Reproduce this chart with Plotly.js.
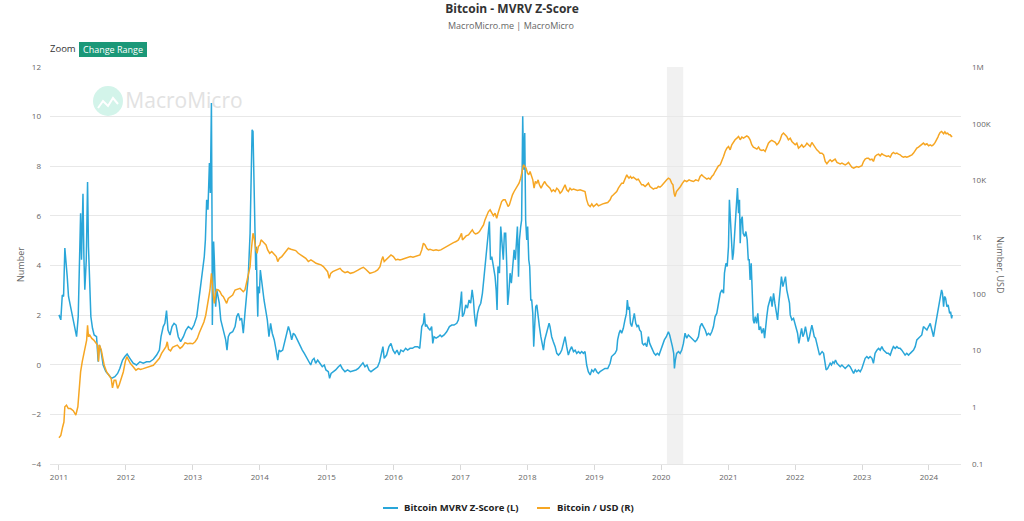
<!DOCTYPE html>
<html>
<head>
<meta charset="utf-8">
<script src="https://cdn.plot.ly/plotly-3.0.1.min.js"></script>
<style>
html,body{margin:0;padding:0;background:#fff;}
#chart{width:1024px;height:521px;}
</style>
</head>
<body>
<div id="chart"></div>
<script>
// ---- DATA (decimal year, value) ----
const mvrvPoints = [
[2011.000,2.01],[2011.030,1.81],[2011.050,2.81],[2011.070,2.75],[2011.090,4.70],[2011.105,4.23],[2011.125,3.55],[2011.145,2.75],[2011.175,2.34],[2011.205,1.94],
[2011.240,1.47],[2011.264,1.13],[2011.289,1.94],[2011.309,3.69],[2011.324,6.11],[2011.339,4.23],[2011.359,6.89],[2011.374,4.36],[2011.389,3.02],[2011.409,4.23],
[2011.429,7.36],[2011.443,4.76],[2011.458,2.88],[2011.478,1.94],[2011.503,1.47],[2011.528,1.20],[2011.563,1.13],[2011.588,0.12],[2011.603,0.80],[2011.628,0.59],
[2011.663,-0.01],[2011.703,-0.28],[2011.747,-0.41],[2011.787,-0.55],[2011.837,-0.48],[2011.877,-0.35],[2011.912,-0.15],[2011.952,0.19],[2011.987,0.33],
[2012.021,0.43],[2012.061,0.26],[2012.111,0.06],[2012.161,-0.01],[2012.211,0.12],[2012.261,0.06],[2012.310,0.12],[2012.360,0.12],[2012.410,0.22],[2012.460,0.39],
[2012.500,0.59],[2012.525,1.13],[2012.560,1.54],[2012.584,1.67],[2012.609,2.18],[2012.629,1.40],[2012.659,1.20],[2012.689,1.54],[2012.719,1.67],[2012.749,1.60],
[2012.784,1.13],[2012.819,0.93],[2012.858,1.13],[2012.898,1.40],[2012.933,1.54],[2012.983,1.43],
[2013.018,1.60],[2013.058,1.94],[2013.083,2.48],[2013.118,3.42],[2013.147,3.82],[2013.172,4.36],[2013.187,5.03],[2013.207,6.65],[2013.227,6.25],[2013.247,8.13],
[2013.262,6.92],[2013.277,10.55],[2013.287,6.25],[2013.292,1.60],[2013.302,3.69],[2013.312,4.97],[2013.322,4.23],[2013.332,2.88],[2013.342,2.34],[2013.357,3.02],
[2013.377,2.81],[2013.397,2.48],[2013.417,1.81],[2013.441,1.54],[2013.466,1.27],[2013.491,1.00],[2013.511,0.59],[2013.531,1.13],[2013.556,1.27],[2013.596,1.33],
[2013.631,1.54],[2013.656,1.94],[2013.681,2.07],[2013.706,1.81],[2013.731,1.87],[2013.756,1.27],[2013.780,2.07],[2013.805,2.88],[2013.830,3.55],[2013.855,5.30],
[2013.870,6.92],[2013.885,9.47],[2013.900,9.40],[2013.910,7.18],[2013.920,5.57],[2013.930,5.30],[2013.940,3.82],[2013.950,4.76],[2013.960,3.02],[2013.970,1.94],
[2013.980,3.15],[2013.995,2.88],[2014.010,3.82],[2014.025,3.42],[2014.045,2.88],[2014.065,2.61],[2014.089,2.21],[2014.114,1.81],[2014.139,1.13],[2014.164,1.67],
[2014.189,1.27],[2014.219,1.00],[2014.244,0.59],[2014.269,0.19],[2014.289,0.59],[2014.314,0.53],[2014.344,0.59],[2014.378,0.93],[2014.403,1.27],[2014.428,1.54],
[2014.453,1.33],[2014.478,1.00],[2014.503,1.27],[2014.528,1.20],[2014.563,1.00],[2014.603,0.73],[2014.637,0.59],[2014.667,0.46],[2014.702,0.26],[2014.727,0.12],
[2014.762,-0.01],[2014.787,0.19],[2014.812,0.26],[2014.837,0.06],[2014.866,0.19],[2014.901,0.06],[2014.936,-0.08],[2014.966,-0.01],[2014.991,-0.21],
[2015.026,-0.28],[2015.046,-0.55],[2015.066,-0.35],[2015.101,-0.28],[2015.136,-0.21],[2015.176,-0.08],[2015.206,-0.01],[2015.235,-0.15],[2015.275,-0.28],[2015.315,-0.21],
[2015.355,-0.28],[2015.400,-0.24],[2015.440,-0.21],[2015.474,-0.15],[2015.514,-0.01],[2015.544,0.08],[2015.574,-0.08],[2015.604,-0.01],[2015.634,-0.21],[2015.664,-0.28],
[2015.699,-0.21],[2015.734,-0.15],[2015.764,-0.08],[2015.793,0.12],[2015.823,0.46],[2015.843,0.73],[2015.863,0.26],[2015.898,0.39],[2015.933,0.73],[2015.963,0.86],
[2015.993,0.59],[2016.023,0.46],[2016.053,0.59],[2016.082,0.39],[2016.112,0.59],[2016.147,0.53],[2016.182,0.66],[2016.212,0.59],[2016.247,0.66],[2016.282,0.66],
[2016.322,0.73],[2016.361,0.73],[2016.391,0.66],
[2016.421,1.54],[2016.446,1.67],[2016.461,2.07],[2016.476,1.54],[2016.496,1.60],[2016.521,1.47],[2016.545,1.40],[2016.570,1.54],[2016.585,0.86],[2016.605,1.13],
[2016.635,1.07],[2016.670,1.13],[2016.695,1.20],[2016.720,1.13],[2016.755,1.20],[2016.795,1.33],[2016.834,1.54],[2016.869,1.60],[2016.904,1.60],[2016.944,1.67],
[2016.969,1.81],[2016.994,2.34],[2017.014,2.95],[2017.029,1.94],[2017.054,2.07],[2017.079,2.41],[2017.104,2.28],[2017.128,2.61],[2017.153,2.48],[2017.173,3.02],
[2017.193,2.61],[2017.208,2.07],[2017.228,1.54],[2017.253,2.07],[2017.278,2.34],[2017.303,2.48],[2017.328,2.88],[2017.352,3.55],[2017.372,4.09],[2017.392,4.76],
[2017.412,5.44],[2017.432,5.77],[2017.447,4.23],[2017.467,4.36],[2017.492,3.96],[2017.517,3.55],[2017.532,3.02],[2017.547,2.21],[2017.561,3.96],[2017.581,3.69],
[2017.601,5.57],[2017.621,4.63],[2017.641,4.23],[2017.656,5.30],[2017.676,5.30],[2017.691,3.96],[2017.706,2.41],[2017.721,2.88],[2017.741,3.69],[2017.761,3.29],
[2017.781,3.96],[2017.801,4.63],[2017.821,4.23],[2017.836,4.90],[2017.851,5.57],[2017.866,3.55],[2017.880,5.03],[2017.900,5.57],[2017.915,5.83],[2017.930,10.01],
[2017.945,7.86],[2017.960,9.34],[2017.975,5.83],[2017.990,5.03],[2018.005,5.57],[2018.020,4.23],[2018.035,3.96],[2018.050,2.61],[2018.065,2.61],[2018.080,2.07],
[2018.095,0.73],[2018.110,1.67],[2018.125,2.34],[2018.140,2.41],[2018.160,1.81],[2018.180,1.54],[2018.200,1.13],[2018.220,0.86],[2018.240,0.59],[2018.260,1.00],
[2018.280,1.27],[2018.305,1.47],[2018.325,1.67],[2018.339,1.54],[2018.364,1.13],[2018.389,0.93],[2018.414,0.73],[2018.439,0.46],[2018.464,0.39],[2018.489,0.46],
[2018.514,0.59],[2018.539,0.86],[2018.564,1.13],[2018.588,0.73],[2018.613,0.39],[2018.638,0.59],[2018.663,0.73],[2018.688,0.53],[2018.713,0.59],[2018.738,0.46],
[2018.763,0.53],[2018.788,0.46],[2018.813,0.53],[2018.837,0.46],[2018.862,0.53],[2018.887,-0.01],[2018.912,-0.28],[2018.937,-0.41],[2018.962,-0.21],[2018.987,-0.28],
[2019.012,-0.15],[2019.037,-0.28],[2019.062,-0.35],[2019.087,-0.28],[2019.127,-0.21],
[2019.161,-0.15],[2019.201,-0.15],[2019.236,0.06],[2019.260,0.33],[2019.285,0.39],[2019.310,0.46],[2019.335,0.59],[2019.350,1.00],[2019.370,1.27],[2019.390,1.40],
[2019.410,1.27],[2019.435,1.47],[2019.460,1.81],[2019.480,2.07],[2019.495,2.61],[2019.510,2.21],[2019.525,2.34],[2019.540,1.67],[2019.560,1.54],[2019.580,1.81],
[2019.600,2.07],[2019.620,1.67],[2019.639,1.54],[2019.659,1.60],[2019.679,1.40],[2019.699,1.33],[2019.719,0.86],[2019.739,0.80],[2019.759,0.86],[2019.784,0.73],
[2019.809,1.13],[2019.829,0.86],[2019.849,0.73],[2019.869,0.59],[2019.894,0.46],[2019.918,0.39],[2019.943,0.46],[2019.968,0.39],[2019.993,0.59],[2020.018,0.80],
[2020.048,1.00],[2020.078,1.13],[2020.108,1.33],[2020.128,1.20],[2020.148,1.00],[2020.167,0.73],[2020.187,0.46],[2020.197,-0.15],[2020.212,0.19],[2020.232,0.46],
[2020.257,0.53],[2020.282,0.46],[2020.307,0.59],[2020.332,0.86],[2020.357,1.27],[2020.382,1.07],[2020.407,1.20],[2020.431,1.13],[2020.456,1.07],[2020.481,1.00],
[2020.506,0.93],[2020.531,1.00],[2020.556,1.13],[2020.581,1.54],[2020.606,1.67],[2020.631,1.54],[2020.656,1.40],[2020.681,1.20],[2020.706,1.27],[2020.730,1.20],
[2020.755,1.33],[2020.780,1.54],[2020.805,1.94],[2020.830,2.07],[2020.855,2.48],[2020.880,2.88],[2020.905,3.02],[2020.930,2.88],[2020.945,3.69],[2020.965,4.09],
[2020.985,3.96],[2021.004,4.76],[2021.019,6.65],[2021.034,5.57],[2021.049,5.17],[2021.064,4.23],[2021.079,4.49],[2021.094,5.30],[2021.109,5.83],[2021.124,6.51],
[2021.139,7.12],[2021.154,6.11],[2021.169,6.65],[2021.179,4.90],[2021.194,5.83],[2021.209,5.97],[2021.224,5.30],[2021.244,5.17],[2021.264,5.37],[2021.284,5.03],
[2021.299,4.23],[2021.313,4.23],[2021.328,3.42],[2021.343,4.09],[2021.358,2.88],[2021.373,1.81],[2021.388,1.67],[2021.403,1.94],[2021.423,1.67],[2021.443,2.07],
[2021.463,1.40],[2021.483,1.54],[2021.503,1.27],[2021.528,1.47],[2021.543,1.07],[2021.558,1.54],[2021.577,1.94],[2021.597,2.34],[2021.617,2.61],[2021.637,2.75],
[2021.657,2.34],[2021.677,2.88],[2021.697,2.48],[2021.717,2.07],[2021.737,1.81],[2021.757,2.48],[2021.777,3.02],[2021.797,3.55],[2021.817,3.15],[2021.837,3.42],
[2021.856,3.55],[2021.876,3.02],[2021.896,2.75],[2021.916,2.48],
[2021.927,2.01],[2021.952,1.81],[2021.977,1.87],[2021.997,1.67],[2022.017,1.54],[2022.037,1.27],[2022.057,0.86],[2022.077,1.13],[2022.096,1.47],[2022.116,1.13],
[2022.136,1.27],[2022.156,1.54],[2022.176,1.27],[2022.196,0.93],[2022.216,1.13],[2022.236,1.40],[2022.251,1.60],[2022.266,1.40],[2022.286,1.13],[2022.306,1.07],
[2022.326,0.86],[2022.346,0.59],[2022.366,0.39],[2022.385,0.46],[2022.405,0.53],[2022.425,0.46],[2022.445,0.12],[2022.465,-0.21],[2022.485,-0.15],[2022.505,-0.01],
[2022.525,0.06],[2022.545,-0.01],[2022.565,0.12],[2022.585,0.06],[2022.605,0.19],[2022.625,0.06],[2022.649,-0.01],[2022.674,-0.08],[2022.699,-0.01],[2022.724,-0.08],
[2022.749,-0.15],[2022.774,-0.08],[2022.799,-0.01],[2022.824,-0.08],[2022.849,-0.21],[2022.874,-0.35],[2022.899,-0.21],[2022.923,-0.28],[2022.948,-0.21],[2022.973,-0.28],
[2022.998,-0.15],[2023.023,0.06],[2023.048,0.26],[2023.073,0.33],[2023.098,0.26],[2023.123,0.33],[2023.148,0.26],[2023.172,0.06],[2023.197,0.46],[2023.222,0.59],
[2023.247,0.66],[2023.272,0.59],[2023.297,0.73],[2023.322,0.59],[2023.347,0.53],[2023.372,0.46],[2023.397,0.46],[2023.422,0.39],[2023.447,0.59],[2023.471,0.73],
[2023.496,0.66],[2023.521,0.73],[2023.546,0.66],[2023.571,0.66],[2023.596,0.59],[2023.621,0.46],[2023.646,0.39],[2023.671,0.46],[2023.696,0.39],[2023.721,0.46],
[2023.746,0.53],[2023.771,0.59],[2023.796,0.73],[2023.820,1.00],[2023.845,1.07],[2023.870,1.13],[2023.895,1.20],[2023.920,1.54],[2023.945,1.47],[2023.970,1.40],
[2023.995,1.54],[2024.020,1.67],[2024.045,1.40],[2024.070,1.13],[2024.095,1.54],[2024.120,1.94],[2024.135,2.07],[2024.150,2.48],[2024.169,2.61],[2024.189,3.02],
[2024.204,2.88],[2024.219,2.34],[2024.234,2.75],[2024.249,2.68],[2024.269,2.34],[2024.289,2.41],[2024.309,2.07],[2024.324,2.14],[2024.339,1.87],[2024.349,2.01]
];

const btcPoints = [
[2011.000,0.29],[2011.030,0.32],[2011.055,0.45],[2011.075,0.55],[2011.090,1.02],[2011.115,1.09],[2011.140,0.95],[2011.175,0.95],[2011.214,0.87],[2011.254,0.73],
[2011.284,1.02],[2011.304,2.15],[2011.324,4.2],[2011.349,6.4],[2011.374,8.9],[2011.399,10.9],[2011.414,15.3],[2011.429,28],[2011.443,17.5],[2011.463,18.8],
[2011.493,16.4],[2011.523,15.3],[2011.553,13.4],[2011.578,12.5],[2011.593,6.4],[2011.608,12.5],[2011.633,10.2],[2011.653,7.3],[2011.678,5.5],[2011.713,4.2],
[2011.747,3.7],[2011.782,3.2],[2011.802,2.2],[2011.827,3.0],[2011.852,3.0],[2011.877,2.15],[2011.902,2.5],[2011.927,3.2],[2011.962,4.2],[2011.992,6.4],
[2012.016,7.8],[2012.041,6.8],[2012.071,5.9],[2012.111,5.2],[2012.151,4.5],[2012.186,4.8],[2012.221,4.65],[2012.261,4.8],[2012.310,5.05],[2012.360,5.2],
[2012.410,5.5],[2012.460,6.4],[2012.500,7.3],[2012.535,8.9],[2012.570,10.5],[2012.599,11.7],[2012.619,14.3],[2012.639,10.5],[2012.669,9.9],[2012.699,11.4],
[2012.734,12.0],[2012.769,12.5],[2012.809,10.9],[2012.844,11.7],[2012.883,13.8],[2012.923,13.2],[2012.958,13.4],[2012.998,13.2],
[2013.033,14.3],[2013.068,16.4],[2013.098,20.7],[2013.133,26.4],[2013.167,32],[2013.192,42],[2013.212,59],[2013.237,83],[2013.257,117],[2013.277,230],
[2013.292,117],[2013.307,89],[2013.322,68],[2013.337,102],[2013.357,120],[2013.382,117],[2013.407,109],[2013.431,95],[2013.456,89],[2013.481,78],
[2013.506,68],[2013.531,83],[2013.556,87],[2013.596,95],
[2013.631,117],[2013.656,120],[2013.681,125],[2013.706,125],[2013.731,117],[2013.756,109],[2013.780,117],[2013.805,153],[2013.830,201],[2013.855,302],
[2013.870,520],[2013.885,836],[2013.900,1172],[2013.915,1023],[2013.930,682],[2013.945,596],[2013.960,520],[2013.980,682],[2014.000,730],[2014.020,894],
[2014.045,836],[2014.070,780],[2014.095,730],[2014.120,596],[2014.149,520],[2014.179,556],[2014.219,485],[2014.249,454],[2014.269,371],[2014.294,424],
[2014.329,454],[2014.369,520],[2014.403,611],[2014.428,637],[2014.468,611],[2014.503,596],[2014.538,580],[2014.578,520],[2014.613,485],[2014.653,454],
[2014.688,424],[2014.727,371],[2014.767,396],[2014.807,371],[2014.842,346],[2014.876,337],[2014.916,324],[2014.951,302],[2014.986,264],
[2015.016,246],[2015.041,188],[2015.061,230],[2015.091,246],[2015.126,257],[2015.166,271],[2015.201,282],[2015.235,253],[2015.275,237],[2015.315,246],
[2015.355,230],[2015.400,237],[2015.435,246],[2015.474,264],[2015.514,282],[2015.549,294],[2015.584,271],[2015.614,246],[2015.649,230],[2015.684,237],
[2015.724,246],[2015.764,264],[2015.798,302],[2015.823,396],[2015.843,454],[2015.863,371],[2015.898,407],[2015.933,454],[2015.963,485],[2015.998,454],
[2016.033,396],[2016.063,407],[2016.097,396],[2016.132,407],[2016.172,424],[2016.212,441],[2016.252,454],[2016.292,441],[2016.331,454],[2016.371,467],
[2016.396,485],[2016.421,596],[2016.446,780],[2016.471,730],[2016.496,637],[2016.521,596],[2016.545,611],[2016.570,596],[2016.595,580],[2016.635,596],
[2016.670,580],[2016.705,596],[2016.745,637],[2016.785,682],[2016.820,730],[2016.854,761],[2016.894,802],[2016.934,836],[2016.969,894],[2016.994,1023],
[2017.014,1172],[2017.029,894],[2017.054,955],[2017.083,1052],[2017.118,1094],[2017.153,1253],[2017.178,1342],[2017.198,1205],[2017.223,1141],[2017.253,1172],
[2017.283,1253],[2017.313,1436],[2017.343,1645],[2017.367,2014],[2017.392,2471],[2017.417,2827],[2017.442,3027],[2017.467,2641],[2017.492,2371],[2017.517,2641],
[2017.541,2158],[2017.561,2641],[2017.591,3467],[2017.616,4246],[2017.641,4543],[2017.666,4543],[2017.691,3970],[2017.711,3467],[2017.731,3707],[2017.751,4543],
[2017.776,5572],[2017.801,6383],[2017.826,7301],[2017.851,7817],[2017.875,8954],[2017.900,10965],[2017.920,13430],[2017.940,18840],[2017.960,17620],[2017.980,16480],
[2018.000,13430],[2018.020,12560],[2018.040,14360],[2018.060,12560],[2018.080,10250],[2018.100,7301],[2018.120,9570],[2018.140,8954],[2018.160,10250],[2018.180,8356],
[2018.205,7301],[2018.230,8356],[2018.260,9570],[2018.285,8356],[2018.314,7817],[2018.339,7301],[2018.364,6383],[2018.389,6823],[2018.414,6383],[2018.439,7301],
[2018.464,6823],[2018.489,5957],[2018.514,6383],[2018.539,7301],[2018.564,8356],[2018.588,6823],[2018.613,6383],[2018.638,7301],[2018.663,6823],[2018.688,7015],
[2018.713,6823],[2018.748,6637],[2018.788,6823],[2018.827,6637],[2018.862,6383],[2018.887,4543],[2018.912,3707],[2018.937,3467],[2018.962,3864],[2018.987,3467],
[2019.012,3707],[2019.037,3864],[2019.062,3564],[2019.087,3707],[2019.127,3864],
[2019.161,3970],[2019.201,4074],[2019.236,4543],[2019.260,5200],[2019.285,5572],[2019.310,5957],[2019.335,6383],[2019.360,7301],[2019.385,8356],[2019.410,8954],
[2019.435,8954],[2019.460,10250],[2019.485,12560],[2019.500,11720],[2019.520,10965],[2019.540,11720],[2019.560,10965],[2019.585,11430],[2019.610,10965],[2019.634,10250],
[2019.659,10520],[2019.684,9570],[2019.709,8356],[2019.734,8356],[2019.759,7817],[2019.784,8356],[2019.809,8954],[2019.834,7817],[2019.859,7301],[2019.883,7015],
[2019.908,7301],[2019.933,7301],[2019.958,7817],[2019.983,7600],[2020.008,8080],[2020.033,8954],[2020.058,9570],[2020.083,10250],[2020.108,10965],[2020.133,10520],
[2020.157,8954],[2020.177,8356],[2020.192,5957],[2020.207,5200],[2020.227,6383],[2020.257,7015],[2020.287,7817],[2020.317,8954],[2020.347,10000],[2020.382,9570],
[2020.416,10250],[2020.446,9840],[2020.481,9570],[2020.516,10250],[2020.556,9840],[2020.581,11720],[2020.606,12560],[2020.631,11720],[2020.656,10965],[2020.681,10520],
[2020.706,10965],[2020.730,10520],[2020.755,11720],[2020.780,12560],[2020.805,14360],[2020.830,16480],[2020.855,18070],[2020.880,18840],[2020.905,21580],[2020.930,26480],
[2020.955,32430],[2020.980,37150],[2021.004,39720],[2021.029,34670],[2021.054,42560],[2021.079,48700],[2021.104,52120],[2021.129,55720],[2021.154,59560],[2021.179,52120],
[2021.204,58070],[2021.229,55720],[2021.254,59560],[2021.279,61200],[2021.303,58070],[2021.328,52120],[2021.353,42560],[2021.378,38660],[2021.403,37150],[2021.428,35640],
[2021.453,38660],[2021.478,34670],[2021.503,33810],[2021.528,34670],[2021.553,32430],[2021.577,38660],[2021.602,45500],[2021.627,48700],[2021.652,50700],[2021.677,48700],
[2021.702,46800],[2021.727,42560],[2021.752,45500],[2021.777,52120],[2021.802,63800],[2021.827,68390],[2021.852,63800],[2021.876,59560],[2021.901,52120],
[2021.927,55720],[2021.952,48700],[2021.977,45500],[2022.002,42560],[2022.027,45500],[2022.052,37150],[2022.077,39720],[2022.101,42560],[2022.126,38660],[2022.151,40830],
[2022.176,45500],[2022.201,42560],[2022.226,39720],[2022.251,46800],[2022.276,42560],[2022.301,37150],[2022.326,34670],[2022.351,32430],[2022.375,30290],[2022.400,30290],
[2022.425,28310],[2022.450,21580],[2022.475,19630],[2022.500,21580],[2022.525,23120],[2022.550,21580],[2022.575,22520],[2022.600,23770],[2022.625,20750],[2022.650,20190],
[2022.674,19630],[2022.699,20190],[2022.724,19630],[2022.749,18840],[2022.774,19630],[2022.799,20750],[2022.824,18840],[2022.849,17140],[2022.874,16480],[2022.899,17140],
[2022.923,17620],[2022.948,17140],[2022.973,17620],[2022.998,18110],[2023.023,21580],[2023.048,23770],[2023.073,24720],[2023.098,24720],[2023.123,23120],[2023.148,23770],
[2023.172,21580],[2023.197,26480],[2023.222,28310],[2023.247,29110],[2023.272,27180],[2023.297,29510],[2023.322,28310],[2023.347,27180],[2023.372,26480],[2023.397,27180],
[2023.422,25780],[2023.447,29510],[2023.471,31120],[2023.496,29510],[2023.521,30290],[2023.546,29110],[2023.571,28310],[2023.596,26480],[2023.621,25780],[2023.646,26480],
[2023.671,25780],[2023.696,26480],[2023.721,27180],[2023.746,28310],[2023.771,30290],[2023.796,33770],[2023.820,37150],[2023.845,38660],[2023.870,40830],[2023.895,42560],
[2023.920,45500],[2023.945,42560],[2023.970,44310],[2023.995,40830],[2024.020,42560],[2024.045,40830],[2024.070,42560],[2024.095,46800],[2024.120,52120],[2024.135,58070],
[2024.150,63800],[2024.169,70200],[2024.189,73000],[2024.204,70200],[2024.219,66500],[2024.239,72100],[2024.259,66500],[2024.279,68400],[2024.299,63800],[2024.319,63800],
[2024.334,59560],[2024.349,61200]
];

const yearTicks = [2011,2012,2013,2014,2015,2016,2017,2018,2019,2020,2021,2022,2023,2024];
const leftTicks = [-4,-2,0,2,4,6,8,10,12];
const rightTickVals = [0.1,1,10,100,1000,10000,100000,1000000];
const rightTickText = ['0.1','1','10','100','1K','10K','100K','1M'];
const recessionStart = ['2020-02-01'];
const recessionEnd = ['2020-04-30'];
const seriesNames = ['Bitcoin MVRV Z-Score (L)','Bitcoin / USD (R)'];
const seriesColors = ['#29a6d9','#f6a623'];

// ---- helpers ----
function decYearToDate(d){
  const y = Math.floor(d);
  const s = Date.UTC(y,0,1), e = Date.UTC(y+1,0,1);
  return new Date(s + (d - y)*(e - s)).toISOString().slice(0,10);
}
// plot area in pixels: x 50..961, y 67..464
const PL=50, PR=961, PT=67, PB=464;
const PX = x => (x-PL)/(PR-PL);
const PY = y => (PB-y)/(PB-PT);

const FONT = '"Open Sans", "Noto Sans", sans-serif';

const traces = [
  {
    type:'scatter', mode:'lines', name:seriesNames[0],
    x: mvrvPoints.map(p=>decYearToDate(p[0])), y: mvrvPoints.map(p=>p[1]),
    yaxis:'y', line:{color:seriesColors[0], width:1.5}, showlegend:false, hoverinfo:'skip'
  },
  {
    type:'scatter', mode:'lines', name:seriesNames[1],
    x: btcPoints.map(p=>decYearToDate(p[0])), y: btcPoints.map(p=>p[1]),
    yaxis:'y2', line:{color:seriesColors[1], width:1.5}, showlegend:false, hoverinfo:'skip'
  }
];

const shapes = [];
recessionStart.forEach((s,i)=>{
  shapes.push({type:'rect', xref:'x', yref:'paper', x0:s, x1:recessionEnd[i], y0:0, y1:1,
    fillcolor:'#f1f1f1', line:{width:0}, layer:'below'});
});
// watermark
shapes.push({type:'circle', xref:'paper', yref:'paper', x0:PX(93), x1:PX(123), y0:PY(116), y1:PY(86),
  fillcolor:'#d3f4ea', line:{width:0}, layer:'below'});
shapes.push({type:'path', xref:'paper', yref:'paper',
  path:`M ${PX(98)},${PY(108)} L ${PX(103)},${PY(101)} L ${PX(108)},${PY(106)} L ${PX(113)},${PY(98)} L ${PX(118)},${PY(104)}`,
  line:{color:'#ffffff', width:2}, layer:'below'});
shapes.push({type:'rect', xref:'paper', yref:'paper', x0:PX(125), x1:PX(243), y0:PY(114), y1:PY(88),
  fillcolor:'rgba(0,0,0,0)', line:{width:0}, layer:'below',
  label:{text:'MacroMicro', font:{family:FONT, size:21, color:'#e2e2e2'}, textposition:'middle center'}});
// "Change Range" button background
shapes.push({type:'rect', xref:'paper', yref:'paper', x0:PX(79), x1:PX(147), y0:PY(57), y1:PY(42),
  fillcolor:'#1b9878', line:{width:0}});
// legend symbols
shapes.push({type:'line', xref:'paper', yref:'paper', x0:PX(383), x1:PX(398), y0:PY(508), y1:PY(508),
  line:{color:seriesColors[0], width:2}});
shapes.push({type:'line', xref:'paper', yref:'paper', x0:PX(537), x1:PX(550), y0:PY(508), y1:PY(508),
  line:{color:seriesColors[1], width:2}});

const annotations = [
  {xref:'paper', yref:'paper', x:PX(511), y:PY(25), text:'MacroMicro.me | MacroMicro', showarrow:false,
   font:{family:FONT, size:9, color:'#666'}, xanchor:'center', yanchor:'middle'},
  {xref:'paper', yref:'paper', x:PX(62.5), y:PY(49), text:'Zoom', showarrow:false,
   font:{family:FONT, size:9.5, color:'#333'}, xanchor:'center', yanchor:'middle'},
  {xref:'paper', yref:'paper', x:PX(113), y:PY(49.5), text:'Change Range', showarrow:false,
   font:{family:FONT, size:9, color:'#ffffff'}, xanchor:'center', yanchor:'middle'},
  {xref:'paper', yref:'paper', x:PX(20), y:PY(265), text:'Number', showarrow:false, textangle:-90,
   font:{family:FONT, size:9, color:'#666'}, xanchor:'center', yanchor:'middle'},
  {xref:'paper', yref:'paper', x:PX(1001), y:PY(265), text:'Number, USD', showarrow:false, textangle:90,
   font:{family:FONT, size:9, color:'#666'}, xanchor:'center', yanchor:'middle'},
  {xref:'paper', yref:'paper', x:PX(402), y:PY(508), text:'<b>'+seriesNames[0]+'</b>', showarrow:false,
   font:{family:FONT, size:9.5, color:'#222'}, xanchor:'left', yanchor:'middle'},
  {xref:'paper', yref:'paper', x:PX(555), y:PY(508), text:'<b>'+seriesNames[1]+'</b>', showarrow:false,
   font:{family:FONT, size:9.5, color:'#222'}, xanchor:'left', yanchor:'middle'}
];

const layout = {
  width:1024, height:521,
  margin:{l:PL, r:1024-PR, t:PT, b:521-PB, pad:0},
  paper_bgcolor:'#ffffff', plot_bgcolor:'rgba(0,0,0,0)',
  font:{family:FONT, size:8, color:'#666'},
  title:{text:'<b>Bitcoin - MVRV Z-Score</b>', font:{family:FONT, size:12, color:'#333'},
         x:0.5, xref:'container', xanchor:'center', y:1-9/521, yref:'container', yanchor:'middle'},
  showlegend:false,
  xaxis:{type:'date', range:['2010-11-13','2024-06-24'],
    tickvals: yearTicks.map(y=>y+'-01-01'), ticktext: yearTicks.map(String),
    ticks:'outside', ticklen:5, tickcolor:'#d8d8d8', tickwidth:1,
    showgrid:false, zeroline:false, showline:true, linecolor:'#e6e6e6', linewidth:1,
    tickfont:{family:FONT, size:8, color:'#666'}, fixedrange:true},
  yaxis:{range:[-4,12], tickvals:leftTicks, showgrid:true, gridcolor:'#e8e8e8', gridwidth:1,
    zeroline:false, showline:false, ticks:'', ticklabelstandoff:8,
    tickfont:{family:FONT, size:8, color:'#666'}, fixedrange:true},
  yaxis2:{type:'log', range:[-1,6], overlaying:'y', side:'right',
    tickvals:rightTickVals, ticktext:rightTickText, showgrid:false, zeroline:false, showline:false,
    ticks:'', ticklabelstandoff:10, tickfont:{family:FONT, size:8, color:'#666'}, fixedrange:true},
  shapes: shapes,
  annotations: annotations
};

Plotly.newPlot('chart', traces, layout, {displayModeBar:false, staticPlot:true});
</script>
</body>
</html>
